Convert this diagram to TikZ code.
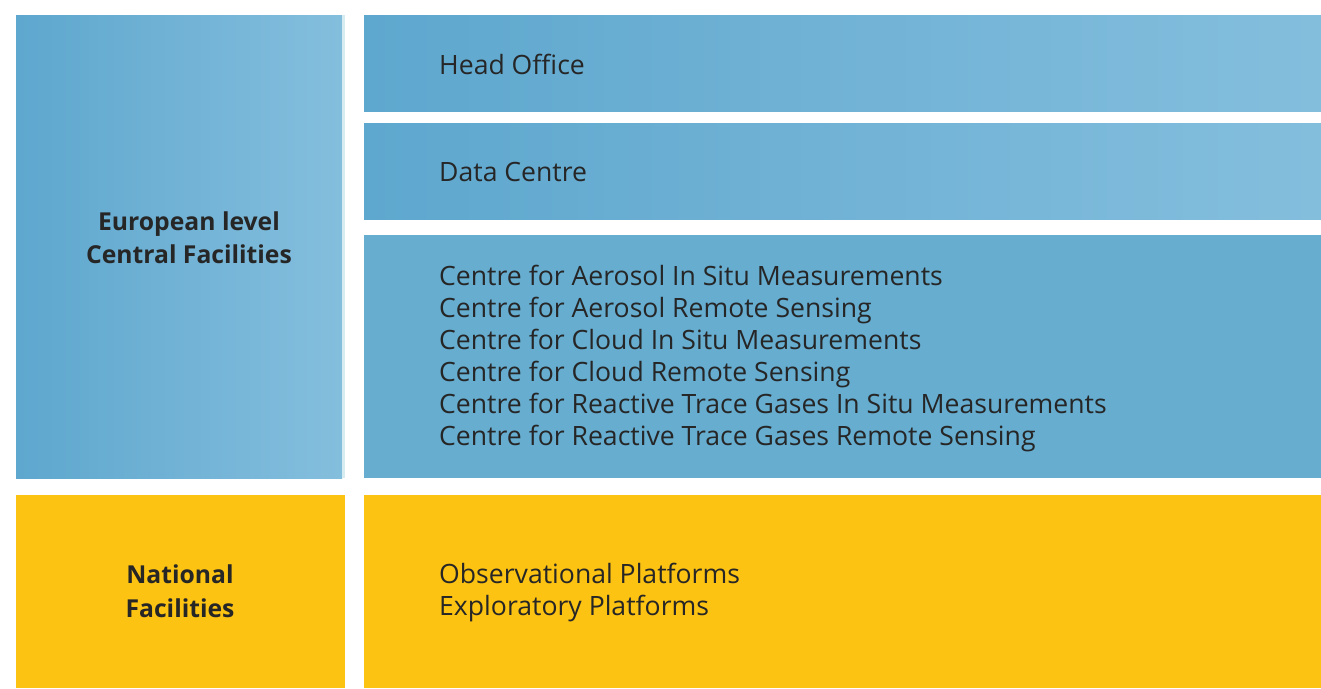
\documentclass[tikz,border=0pt]{standalone}
\usepackage{fontspec}
\setmainfont{Open Sans}
\definecolor{bL}{HTML}{5EA7CE}
\definecolor{bR}{HTML}{84BEDD}
\definecolor{bS}{HTML}{66ADD0}
\definecolor{yel}{HTML}{FDC313}
\definecolor{edge}{HTML}{D6ECF1}
\definecolor{txt}{HTML}{262626}
\tikzset{
  grad/.style={left color=bL, right color=bR, draw=none},
  item/.style={anchor=base west, inner sep=0pt, text=txt, font=\fontsize{26.6}{32}\selectfont},
  head/.style={anchor=base, inner sep=0pt, text=txt, font=\fontsize{24.7}{33}\selectfont\bfseries},
}
\begin{document}
\begin{tikzpicture}[x=1pt,y=-1pt]
\useasboundingbox (0,0) rectangle (1321,688);
% boxes
\shade[grad] (16,15) rectangle (342,478);
\fill[edge] (342,15) rectangle (345,478);
\shade[grad] (364,15) rectangle (1321,111);
\shade[grad] (364,123) rectangle (1321,219);
\fill[bS] (364,235) rectangle (1321,478);
\fill[yel] (16,495) rectangle (345,688);
\fill[yel] (364,495) rectangle (1321,688);
% left labels
\node[head] (eu1) at (189,230) {European level};
\node[head] (eu2) at (189,263) {Central Facilities};
\node[head] (na1) at (180,583) {National};
\node[head] (na2) at (180,617) {Facilities};
% right labels
\node[item] (ho) at (439,74) {Head Office};
\node[item] (dc) at (439,181) {Data Centre};
\node[item] (c1) at (439,285) {Centre for Aerosol In Situ Measurements};
\node[item] (c2) at (439,317) {Centre for Aerosol Remote Sensing};
\node[item] (c3) at (439,349) {Centre for Cloud In Situ Measurements};
\node[item] (c4) at (439,381) {Centre for Cloud Remote Sensing};
\node[item] (c5) at (439,413) {Centre for Reactive Trace Gases In Situ Measurements};
\node[item] (c6) at (439,445) {Centre for Reactive Trace Gases Remote Sensing};
\node[item] (op) at (439,583) {Observational Platforms};
\node[item] (ep) at (439,615) {Exploratory Platforms};
\end{tikzpicture}
\end{document}
